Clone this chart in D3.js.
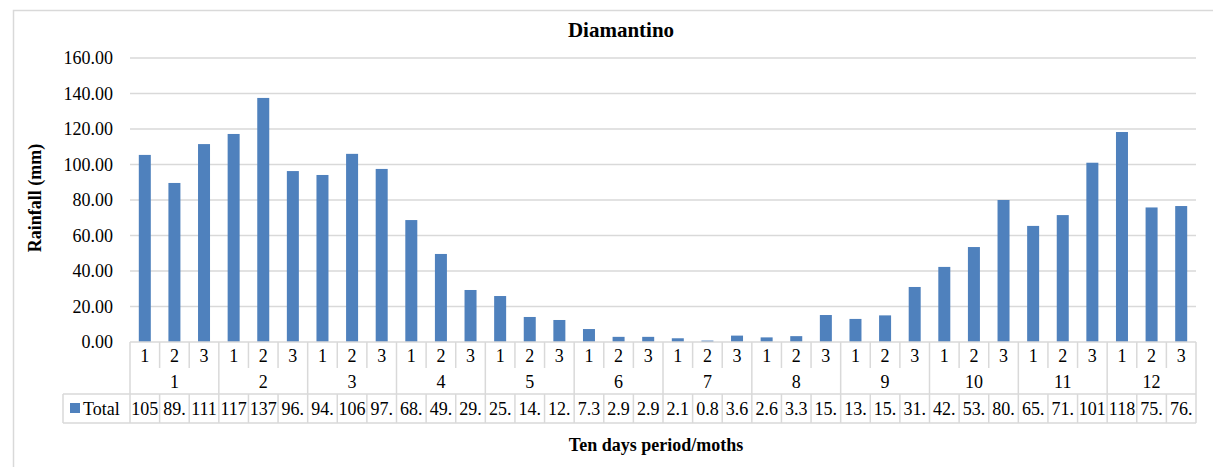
<!DOCTYPE html>
<html>
<head>
<meta charset="utf-8">
<script src="https://cdn.jsdelivr.net/npm/d3@7"></script>
<style>
  body { margin: 0; background: #fff; }
  text { font-family: "Liberation Serif", "Times New Roman", serif; fill: #000; }
</style>
</head>
<body>
<script>
// ten-day periods per month, monthly labels and rainfall totals (mm)
var months = ["1","2","3","4","5","6","7","8","9","10","11","12"];
var periods = ["1","2","3"];
var totals = [
	105.4, 89.6, 111.5,
	117.2, 137.5, 96.3,
	94.1, 106.0, 97.5,
	68.7, 49.6, 29.3,
	25.9, 14.1, 12.4,
	7.3, 2.9, 2.9,
	2.1, 0.8, 3.6,
	2.6, 3.3, 15.2,
	13.0, 15.0, 31.0,
	42.3, 53.5, 80.0,
	65.4, 71.5, 101.0,
	118.3, 75.8, 76.6
];
var yTicks = [0, 20, 40, 60, 80, 100, 120, 140, 160];

var W = 1213, H = 467;
var plotLeft = 130, plotRight = 1196, plotTop = 58, plotBottom = 342;
var rowSub = 368, rowMonth = 394, rowTotal = 423, legendLeft = 63;
var grid = "#d9d9d9", blue = "#4f81bd";

var svg = d3.select("body").append("svg")
	.attr("width", W)
	.attr("height", H);

// outer chart border
svg.append("rect")
	.attr("x", 13.5).attr("y", 10.5)
	.attr("width", W + 10).attr("height", H + 10)
	.attr("fill", "none").attr("stroke", grid).attr("stroke-width", 1.5);

var cols = [];
months.forEach(function(m, mi){
	periods.forEach(function(p, pi){
		cols.push({month: m, period: p, value: totals[mi * 3 + pi], key: m + "-" + p, first: pi === 0});
	});
});

var x = d3.scaleBand()
	.domain(cols.map(function(d){ return d.key; }))
	.range([plotLeft, plotRight]);
var y = d3.scaleLinear().domain([0, 160]).range([plotBottom, plotTop]);

// gridlines
svg.selectAll(".grid")
	.data(yTicks.slice(1))
	.enter().append("line")
	.attr("x1", plotLeft).attr("x2", plotRight)
	.attr("y1", function(d){ return y(d); })
	.attr("y2", function(d){ return y(d); })
	.attr("stroke", grid).attr("stroke-width", 1.5);

// y axis labels
svg.selectAll(".ytick")
	.data(yTicks)
	.enter().append("text")
	.attr("x", 113)
	.attr("y", function(d){ return y(d) + 6; })
	.attr("text-anchor", "end")
	.style("font-size", "18px")
	.text(function(d){ return d3.format(".2f")(d); });

// bars
var barW = 12;
svg.selectAll(".bar")
	.data(cols)
	.enter().append("rect")
	.attr("x", function(d){ return x(d.key) + x.bandwidth() / 2 - barW / 2; })
	.attr("y", function(d){ return y(d.value); })
	.attr("width", barW)
	.attr("height", function(d){ return y(0) - y(d.value); })
	.attr("fill", blue);

// data table lines
var tbl = svg.append("g").attr("stroke", grid).attr("stroke-width", 1.5).attr("fill", "none");
tbl.append("line").attr("x1", plotLeft).attr("x2", plotRight).attr("y1", plotBottom).attr("y2", plotBottom);
tbl.append("line").attr("x1", legendLeft).attr("x2", plotRight).attr("y1", rowMonth).attr("y2", rowMonth);
tbl.append("line").attr("x1", legendLeft).attr("x2", plotRight).attr("y1", rowTotal).attr("y2", rowTotal);
tbl.append("line").attr("x1", legendLeft).attr("x2", legendLeft).attr("y1", rowMonth).attr("y2", rowTotal);
tbl.append("line").attr("x1", plotRight).attr("x2", plotRight).attr("y1", plotBottom).attr("y2", rowTotal);
tbl.selectAll(".vline")
	.data(cols)
	.enter().append("line")
	.attr("x1", function(d){ return x(d.key); })
	.attr("x2", function(d){ return x(d.key); })
	.attr("y1", plotBottom)
	.attr("y2", function(d){ return d.first ? rowTotal : rowSub; });
tbl.selectAll(".vline2")
	.data(cols.filter(function(d){ return !d.first; }))
	.enter().append("line")
	.attr("x1", function(d){ return x(d.key); })
	.attr("x2", function(d){ return x(d.key); })
	.attr("y1", rowMonth).attr("y2", rowTotal);

// period labels
svg.selectAll(".plab")
	.data(cols)
	.enter().append("text")
	.attr("x", function(d){ return x(d.key) + x.bandwidth() / 2; })
	.attr("y", 362)
	.attr("text-anchor", "middle")
	.style("font-size", "18px")
	.text(function(d){ return d.period; });

// month labels
svg.selectAll(".mlab")
	.data(months)
	.enter().append("text")
	.attr("x", function(d){ return x(d + "-2") + x.bandwidth() / 2; })
	.attr("y", 388)
	.attr("text-anchor", "middle")
	.style("font-size", "18px")
	.text(function(d){ return d; });

// total values (clipped like the spreadsheet table)
svg.selectAll(".vlab")
	.data(cols)
	.enter().append("text")
	.attr("x", function(d){ return x(d.key) + x.bandwidth() / 2; })
	.attr("y", 415)
	.attr("text-anchor", "middle")
	.style("font-size", "18px")
	.text(function(d){ return d3.format(".2f")(d.value).slice(0, 3); });

// legend key
svg.append("rect")
	.attr("x", 70).attr("y", 403)
	.attr("width", 10).attr("height", 10)
	.attr("fill", blue);
svg.append("text")
	.attr("x", 83).attr("y", 415)
	.style("font-size", "18px")
	.text("Total");

// titles
svg.append("text")
	.attr("x", 621).attr("y", 37)
	.attr("text-anchor", "middle")
	.style("font-size", "21px").style("font-weight", "bold")
	.text("Diamantino");
svg.append("text")
	.attr("transform", "translate(41,198) rotate(-90)")
	.attr("text-anchor", "middle")
	.style("font-size", "18px").style("font-weight", "bold")
	.text("Rainfall (mm)");
svg.append("text")
	.attr("x", 656).attr("y", 451)
	.attr("text-anchor", "middle")
	.style("font-size", "18px").style("font-weight", "bold")
	.text("Ten days period/moths");
</script>
</body>
</html>
